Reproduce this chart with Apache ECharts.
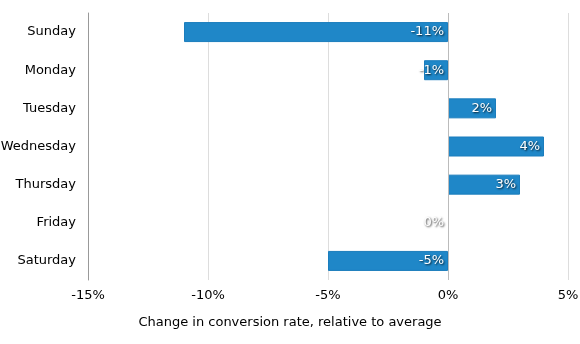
<!DOCTYPE html>
<html><head><meta charset="utf-8">
<script src="https://cdn.jsdelivr.net/npm/echarts@6/dist/echarts.min.js"></script>
<style>html,body{margin:0;padding:0;background:#fff}#c{width:580px;height:344px}</style>
</head><body><div id="c"></div>
<script>
const days = ['Sunday','Monday','Tuesday','Wednesday','Thursday','Friday','Saturday'];
const changes = [-11, -1, 2, 4, 3, 0, -5];
const xTicks = [-15, -10, -5, 0, 5];
const axisTitle = 'Change in conversion rate, relative to average';

const chart = echarts.init(document.getElementById('c'), null, {renderer:'canvas'});
const font = 'DejaVu Sans, Verdana, sans-serif';
chart.setOption({
  animation:false,
  title:{text:axisTitle,left:'center',top:311,textStyle:{fontFamily:font,fontSize:13,fontWeight:'normal',color:'#000'}},
  grid:{left:88,right:12,top:13,bottom:64,containLabel:false,outerBoundsMode:'none'},
  xAxis:{type:'value',min:xTicks[0],max:xTicks[xTicks.length-1],interval:5,
    axisLine:{show:false},axisTick:{show:false},
    axisLabel:{formatter:v=>v+'%',fontFamily:font,fontSize:13,color:'#000',margin:9},
    splitLine:{lineStyle:{color:'#dddddd',width:1}}},
  yAxis:{type:'category',data:days,inverse:true,
    axisLine:{onZero:false,lineStyle:{color:'#999',width:1}},axisTick:{show:false},
    axisLabel:{fontFamily:font,fontSize:13,color:'#000',margin:12}},
  series:[{type:'bar',
    data:changes.map(v=>v===0?{value:v,itemStyle:{borderWidth:0}}:v),
    barWidth:20,
    itemStyle:{color:'#1f87c8',borderColor:'#1b7dbd',borderWidth:1},
    label:{show:true,position:'insideRight',distance:4,formatter:p=>p.value+'%',
      fontFamily:font,fontSize:13,color:'#fff',
      textShadowColor:'rgba(0,0,0,0.8)',textShadowBlur:2,textShadowOffsetX:1,textShadowOffsetY:1},
    markLine:{silent:true,symbol:'none',label:{show:false},lineStyle:{color:'#bbb',type:'solid',width:1},data:[{xAxis:0}]}
  }]
});
</script></body></html>
